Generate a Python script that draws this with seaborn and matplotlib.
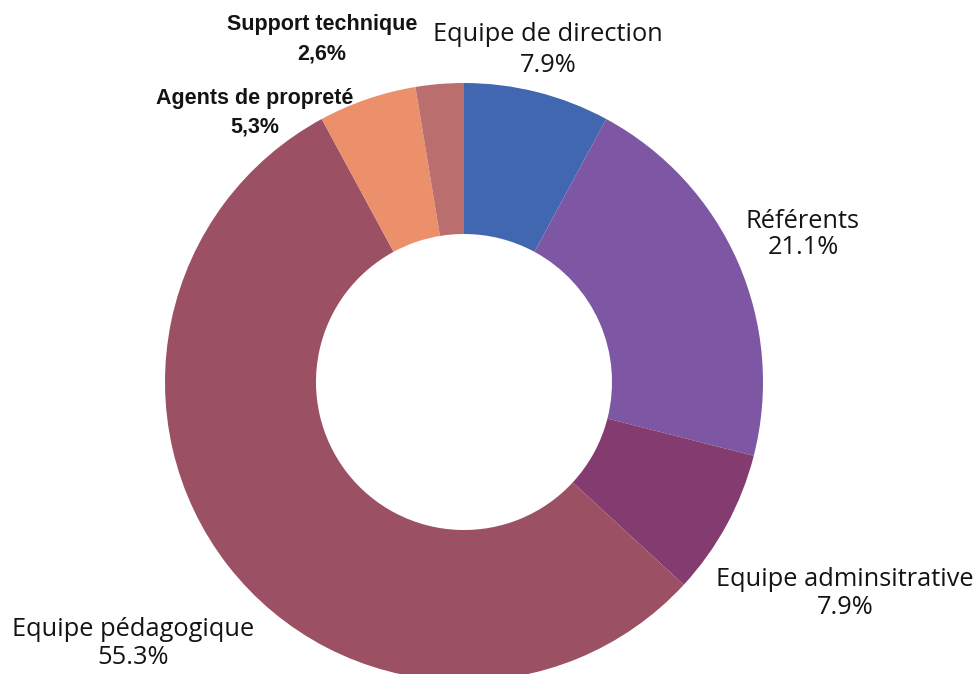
import matplotlib
matplotlib.use("Agg")
import matplotlib.pyplot as plt
import seaborn as sns

sns.set_theme(style="white")

categories = ["Equipe de direction", "Référents", "Equipe adminsitrative",
              "Equipe pédagogique", "Agents de propreté", "Support technique"]
values = [7.9, 21.1, 7.9, 55.3, 5.3, 2.6]
value_labels = ["7.9%", "21.1%", "7.9%", "55.3%", "5,3%", "2,6%"]
bold_label = [False, False, False, False, True, True]
colors = ["#4267B1", "#7D56A4", "#833B70", "#9B5064", "#EC8F6B", "#BA6F6E"]

# label centres in pixel coordinates (x, y of line 1, y of line 2)
label_pos = [(548, 35, 66), (803, 222, 248), (845, 580, 608),
             (133, 630, 658), (255, 99, 127), (322, 25, 54)]

W, H = 978, 674
cx, cy, R = 464, 382, 299

fig = plt.figure(figsize=(W / 100, H / 100), dpi=100)
ax = fig.add_axes([0, 0, 1, 1])
ax.pie(values, colors=colors, startangle=90, counterclock=False,
       radius=1.0, wedgeprops=dict(width=0.505, linewidth=0))
ax.set_aspect("auto")
ax.set_xlim(-cx / R, (W - cx) / R)
ax.set_ylim((cy - H) / R, cy / R)
ax.axis("off")

def to_data(px, py):
    return (px - cx) / R, (cy - py) / R

for cat, vl, b, (px, py1, py2) in zip(categories, value_labels, bold_label, label_pos):
    if b:
        kw = dict(family=["Liberation Sans", "DejaVu Sans"], fontweight="bold", fontsize=15.5)
    else:
        kw = dict(family=["Open Sans", "DejaVu Sans"], fontweight="normal", fontsize=18.3)
    x, y = to_data(px, py1)
    ax.text(x, y, cat, ha="center", va="center", color="#141414", **kw)
    x, y = to_data(px, py2)
    ax.text(x, y, vl, ha="center", va="center", color="#141414", **kw)

fig.savefig("out.png", dpi=100)
